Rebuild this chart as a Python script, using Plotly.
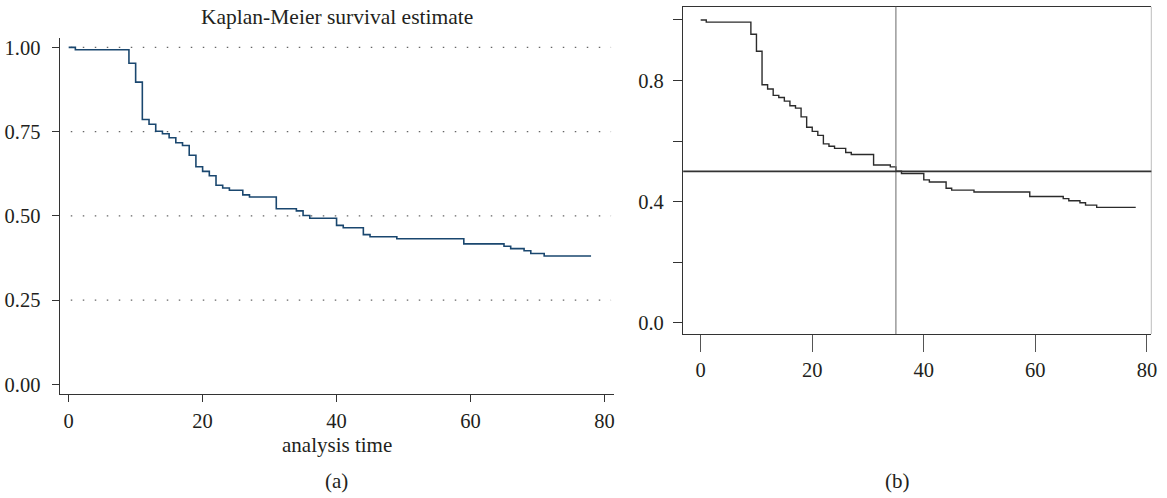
import plotly.graph_objects as go

# Kaplan-Meier estimate (step function, value after each drop)
time = [0, 1, 9, 10, 11, 12, 13, 14, 15, 16, 17, 18, 19, 20, 21, 22, 23, 24, 26, 27,
        31, 34, 35, 36, 40, 41, 44, 45, 49, 59, 65, 66, 68, 69, 71, 78]
surv = [1.000, 0.993, 0.953, 0.897, 0.786, 0.772, 0.751, 0.744, 0.732, 0.717, 0.709,
        0.680, 0.646, 0.632, 0.619, 0.591, 0.583, 0.576, 0.5625, 0.556, 0.521, 0.515,
        0.501, 0.493, 0.472, 0.465, 0.4445, 0.438, 0.432, 0.417, 0.410, 0.403, 0.3965,
        0.3885, 0.381, 0.381]

x_ticks = [0, 20, 40, 60, 80]
left_y_ticks = [0.0, 0.25, 0.5, 0.75, 1.0]
left_grid = [0.25, 0.5, 0.75, 1.0]
right_y_ticks = [0.0, 0.2, 0.4, 0.6, 0.8, 1.0]
right_y_labels = ["0.0", "", "0.4", "", "0.8", ""]
median_time = 35
median_surv = 0.5

title_a = "Kaplan-Meier survival estimate"
xlabel_a = "analysis time"

W, H = 1167, 498
FONT = "Liberation Serif"
TXT = "#231f20"

def px(x):
    return x / W

def py(y):
    return 1 - y / H

fig = go.Figure()

fig.add_trace(go.Scatter(x=time, y=surv, mode="lines", line=dict(shape="hv", color="#1a476f", width=1.6),
                         xaxis="x", yaxis="y", showlegend=False, hoverinfo="skip"))
fig.add_trace(go.Scatter(x=time, y=surv, mode="lines", line=dict(shape="hv", color="#2b2b2b", width=1.4),
                         xaxis="x2", yaxis="y2", showlegend=False, hoverinfo="skip"))

axis_common = dict(showgrid=False, zeroline=False, ticks="outside", showline=True,
                   tickfont=dict(family=FONT, size=20.5, color=TXT))

fig.update_layout(
    width=W, height=H, autosize=False,
    margin=dict(l=0, r=0, t=0, b=0),
    paper_bgcolor="white", plot_bgcolor="white",
    font=dict(family=FONT, color=TXT),
    xaxis=dict(domain=[px(60), px(617)], range=[-1.34, 81.4], tickvals=x_ticks,
               linecolor="#333333", linewidth=1.3, tickcolor="#333333", ticklen=7, tickwidth=1.3,
               ticklabelstandoff=1, anchor="y", **axis_common),
    yaxis=dict(domain=[py(395.3), py(37)], range=[-0.0283, 1.0286], tickvals=left_y_ticks,
               tickformat=".2f", linecolor="#333333", linewidth=1.3, tickcolor="#333333",
               ticklen=7, tickwidth=1.3, ticklabelstandoff=7, anchor="x", **axis_common),
    xaxis2=dict(domain=[px(686.7), px(1157.3)], range=[-3.14, 80.8], tickvals=x_ticks,
                linecolor="#333333", linewidth=1.4, tickcolor="#555555", ticklen=17, tickwidth=1.3,
                mirror=True, ticklabelstandoff=0, anchor="y2", **axis_common),
    yaxis2=dict(domain=[py(335), py(5.7)], range=[-0.037, 1.044], tickvals=right_y_ticks,
                ticktext=right_y_labels, linecolor="#333333", linewidth=1.4, tickcolor="#333333",
                ticklen=9, tickwidth=1.3, ticklabelstandoff=5, anchor="x2", **axis_common),
)

shapes = []
for g in left_grid:
    shapes.append(dict(type="line", xref="x domain", yref="y", x0=0.02, x1=0.995, y0=g, y1=g,
                       line=dict(color="#666666", width=1.4, dash="1.5px,10.5px"), layer="below"))
# right border of panel b (light)
shapes.append(dict(type="line", xref="x2 domain", yref="y2 domain", x0=1, x1=1, y0=0, y1=1,
                   line=dict(color="#c8c8c8", width=1.2)))
# median reference lines
shapes.append(dict(type="line", xref="x2", yref="y2 domain", x0=median_time, x1=median_time, y0=0, y1=1,
                   line=dict(color="#777777", width=1.1)))
shapes.append(dict(type="line", xref="x2 domain", yref="y2", x0=0, x1=1, y0=median_surv, y1=median_surv,
                   line=dict(color="#333333", width=1.6)))
fig.update_layout(shapes=shapes)

ann = [
    dict(text=title_a, x=px(338.5), y=py(16), size=21.5),
    dict(text=xlabel_a, x=px(338.5), y=py(447), size=21),
    dict(text="(a)", x=px(338.5), y=py(483), size=21),
    dict(text="(b)", x=px(902), y=py(483), size=21),
]
fig.update_layout(annotations=[dict(text=a["text"], x=a["x"], y=a["y"], xref="paper", yref="paper",
                                    xanchor="center", yanchor="middle", showarrow=False,
                                    font=dict(family=FONT, size=a["size"], color=TXT)) for a in ann])

fig.write_html("out.html", config={"displayModeBar": False},
               post_script="document.body.style.margin='0';document.body.style.overflow='hidden';")
